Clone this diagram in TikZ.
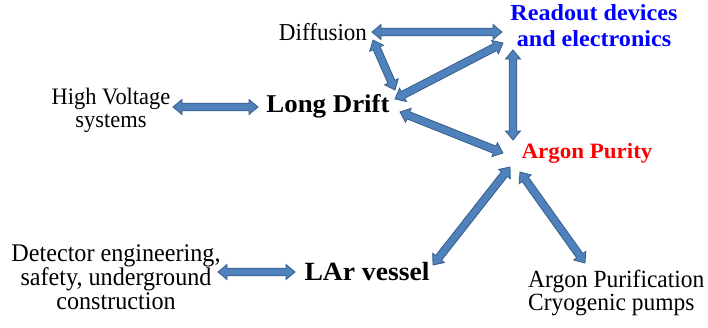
\documentclass[tikz,border=0pt]{standalone}
\usepackage{fontspec}
\setmainfont{Liberation Serif}
\newfontfamily\regfam[FakeStretch=0.95]{Liberation Serif}
\newfontfamily\boldfam[FakeStretch=1.05]{Liberation Serif}
\usetikzlibrary{calc}
\definecolor{arrfill}{RGB}{79,129,189}
\definecolor{arrdraw}{RGB}{56,93,138}
\definecolor{rblue}{RGB}{0,0,255}
\definecolor{rred}{RGB}{255,0,0}
\newcommand\hl{9pt}
\newcommand\hw{7.5pt}
\newcommand\sw{3.8pt}
\newcommand\dbl[2]{%
  \draw[dblarrow] let \p1=($(#2)-(#1)$), \n1={atan2(\y1,\x1)} in
  (#1) -- ($(#1)+(\n1:\hl)+(\n1+90:\hw)$) -- ($(#1)+(\n1:\hl)+(\n1+90:\sw)$)
  -- ($(#2)+(\n1+180:\hl)+(\n1+90:\sw)$) -- ($(#2)+(\n1+180:\hl)+(\n1+90:\hw)$)
  -- (#2) -- ($(#2)+(\n1+180:\hl)+(\n1-90:\hw)$) -- ($(#2)+(\n1+180:\hl)+(\n1-90:\sw)$)
  -- ($(#1)+(\n1:\hl)+(\n1-90:\sw)$) -- ($(#1)+(\n1:\hl)+(\n1-90:\hw)$) -- cycle;}
\tikzset{
  dblarrow/.style={fill=arrfill, draw=arrdraw, line width=0.8pt, line join=miter},
  txt/.style={inner sep=0pt, align=center},
}
\begin{document}
\begin{tikzpicture}[x=1pt,y=1pt]
\useasboundingbox (0,0) rectangle (708,-327);
% nodes
\node[txt, font=\regfam\fontsize{24.3}{24}\selectfont] (diff) at (323,-32) {Diffusion};
\node[txt, text=rblue, font=\boldfam\bfseries\fontsize{23}{26}\selectfont] (read) at (594,-26) {Readout devices\\and electronics};
\node[txt, font=\regfam\fontsize{23.6}{23}\selectfont] (hv) at (111,-110) {High Voltage\\systems};
\node[txt, font=\boldfam\bfseries\fontsize{25.6}{28}\selectfont] (ld) at (328,-106) {Long Drift};
\node[txt, text=rred, font=\boldfam\bfseries\fontsize{21.9}{24}\selectfont] (ap) at (587,-153) {Argon Purity};
\node[txt, font=\regfam\fontsize{25.4}{24}\selectfont] (det) at (116,-277) {Detector engineering,\\safety, underground\\construction};
\node[txt, font=\boldfam\bfseries\fontsize{26.3}{28}\selectfont] (lar) at (367,-271) {LAr vessel};
\node[txt, align=left, anchor=west, font=\regfam\fontsize{24.7}{21}\selectfont] (apc) at (528,-293) {Argon Purification\\Cryogenic pumps};
% connector ends
\coordinate (diffE) at (372,-32);   \coordinate (readW) at (502,-32);
\coordinate (diffS) at (373,-40);   \coordinate (ldN) at (395,-90);
\coordinate (readSW) at (503,-43);  \coordinate (ldNE) at (395,-99);
\coordinate (readS) at (513,-50);   \coordinate (apN) at (513,-140);
\coordinate (ldE) at (400,-112);    \coordinate (apW) at (503,-153);
\coordinate (hvE) at (173,-107);    \coordinate (ldW) at (258,-107);
\coordinate (apSW) at (510,-167);   \coordinate (larNE) at (433,-265);
\coordinate (apS) at (520,-172);    \coordinate (apcN) at (585,-263);
\coordinate (detE) at (218,-272);   \coordinate (larW) at (295,-272);
% connectors
\dbl{diffE}{readW}
\dbl{diffS}{ldN}
\dbl{readSW}{ldNE}
\dbl{readS}{apN}
\dbl{ldE}{apW}
\dbl{hvE}{ldW}
\dbl{apSW}{larNE}
\dbl{apS}{apcN}
\dbl{detE}{larW}
\end{tikzpicture}
\end{document}
